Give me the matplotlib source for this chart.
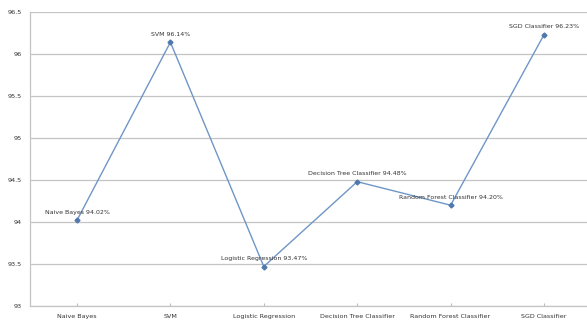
import matplotlib
matplotlib.use('Agg')
import matplotlib.pyplot as plt

models = ['Naive Bayes', 'SVM', 'Logistic Regression', 'Decision Tree Classifier',
          'Random Forest Classifier', 'SGD Classifier']
accuracy = [94.02, 96.14, 93.47, 94.48, 94.20, 96.23]
yticks = [93, 93.5, 94, 94.5, 95, 95.5, 96, 96.5]

plt.rcParams['font.family'] = ['Liberation Sans Narrow', 'DejaVu Sans']

fig = plt.figure(figsize=(5.87, 3.27), dpi=100)
ax = fig.add_axes([30 / 587, 1 - 306 / 327, 557 / 587, 294 / 327])

line_color = '#7096c6'
x = list(range(len(models)))
ax.plot(x, accuracy, color=line_color, linewidth=1.0, marker='D', markersize=2.5,
        markerfacecolor='#4f78ad', markeredgecolor='#4f78ad', zorder=3)

for i, (name, val) in enumerate(zip(models, accuracy)):
    ax.annotate(f'{name} {val:.2f}%', (i, val), xytext=(0, 4), textcoords='offset points',
                ha='center', va='bottom', fontsize=4.5, color='#333333')

ax.set_xlim(-0.503, 5.46)
ax.set_ylim(93, 96.5)
ax.set_yticks(yticks)
ax.set_yticklabels([f'{t:g}' for t in yticks])
ax.set_xticks(x)
ax.set_xticklabels(models)
ax.tick_params(axis='both', labelsize=4.6, colors='#333333', length=0, pad=6)
ax.tick_params(axis='x', length=2, color='#bbbbbb', direction='in')

ax.grid(axis='y', color='#c4c4c4', linewidth=0.9)
ax.set_axisbelow(True)
for side in ['top', 'right']:
    ax.spines[side].set_visible(False)
for side in ['left', 'bottom']:
    ax.spines[side].set_color('#c4c4c4')
    ax.spines[side].set_linewidth(0.9)

fig.savefig('out.png', dpi=100)
